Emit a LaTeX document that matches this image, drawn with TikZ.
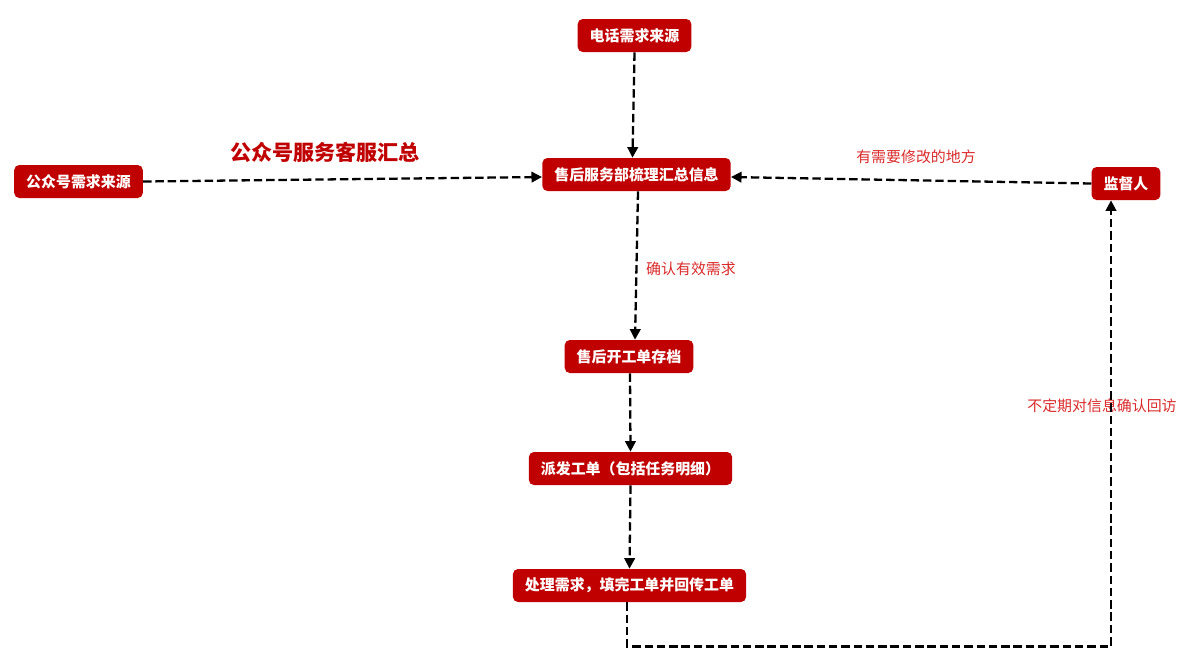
\documentclass[tikz,border=0pt]{standalone}
\usepackage{fontspec}
\setmainfont{Noto Sans CJK SC}
\usepackage{xcolor}
\usepackage{tikz}
\usetikzlibrary{arrows.meta,positioning}
\definecolor{boxred}{HTML}{C00000}
\definecolor{notered}{HTML}{D92B2B}

\begin{document}
\begin{tikzpicture}[
    x=0.02cm, y=-0.02cm,
    box/.style={rectangle, rounded corners=0.1cm, fill=boxred, text=white, minimum height=0.66cm, inner xsep=0.24cm, font=\fontsize{8.5}{10}\selectfont\bfseries},
    note/.style={text=notered, font=\fontsize{8.5}{10}\selectfont},
    arrow/.style={-{Triangle[length=6pt,width=6pt]}, line width=1.3pt, dash pattern=on 4.8pt off 2.2pt},
]
    \useasboundingbox (0,0) rectangle (1200,667);
    \node[box] (phone) at (634.5,35.5) {电话需求来源};
    \node[box] (wechat) at (78.5,181.5) {公众号需求来源};
    \node[box] (sum) at (636.5,174.5) {售后服务部梳理汇总信息};
    \node[box] (sup) at (1126,183.5) {监督人};
    \node[box] (archive) at (629,356.5) {售后开工单存档};
    \node[box] (dispatch) at (630.5,468.5) {派发工单（包括任务明细）};
    \node[box] (process) at (629.5,585.5) {处理需求，填完工单并回传工单};
    % labels
    \node[text=boxred, font=\fontsize{12}{14}\selectfont\bfseries] (title) at (325,152) {公众号服务客服汇总};
    \node[note] (modify) at (916,157) {有需要修改的地方};
    \node[note] (valid) at (691,269) {确认有效需求};
    \node[note] (revisit) at (1102,406) {不定期对信息确认回访};
    % connectors
    \draw[arrow] (phone.south) -- ([xshift=-0.08cm]sum.north);
    \draw[arrow] (wechat.east) -- ([yshift=-0.05cm]sum.west);
    \draw[arrow] (sup.west) -- ([yshift=-0.05cm]sum.east);
    \draw[arrow] ([xshift=0.03cm]sum.south) -- ([xshift=0.12cm]archive.north);
    \draw[arrow] ([xshift=0.02cm]archive.south) -- (dispatch.north);
    \draw[arrow] (dispatch.south) -- (process.north);
    \draw[arrow] ([xshift=-0.05cm]process.south) -- ++(0,44) -| ([xshift=-0.3cm]sup.south);
\end{tikzpicture}
\end{document}
